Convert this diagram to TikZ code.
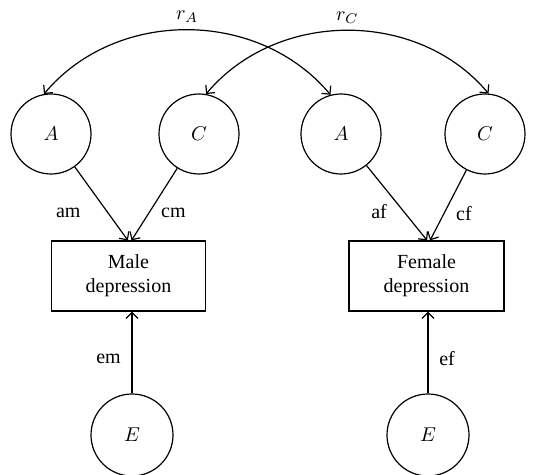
\documentclass[tikz,border=0pt]{standalone}
\usepackage{amsmath,amssymb}
\usepackage{fontspec}
\setmainfont{Liberation Serif}
\usepackage{xcolor}
\usepackage{tikz}
\usetikzlibrary{arrows.meta,positioning,calc}
\tikzset{
  latent/.style={
    circle,draw=black,fill=white,
    line width=.6pt,minimum size=40pt,inner sep=0pt
  },
  residual/.style={
    circle,draw=black,fill=white,
    line width=.6pt,minimum size=41pt,inner sep=0pt
  },
  observed/.style={
    rectangle,draw=black,fill=white,
    line width=.6pt,minimum height=35pt,
    text width=70pt,align=center,font=\normalsize
  },
  path/.style={-{Straight Barb[length=3pt,width=6pt]},draw=black,line width=.6pt},
  covar/.style={{Straight Barb[length=3pt,width=6pt]}-{Straight Barb[length=3pt,width=6pt]},draw=black,line width=.6pt}
}

\begin{document}
\begin{tikzpicture}[x=0.5pt,y=-0.5pt]
\useasboundingbox (0,0) rectangle (536,475);

% latent factors
\node[latent] (Am) at (51,134) {$A$};
\node[latent] (Cm) at (199,134) {$C$};
\node[latent] (Af) at (341,134) {$A$};
\node[latent] (Cf) at (485,134) {$C$};

% observed phenotypes
\node[observed,minimum width=76.5pt] (male) at (128.5,276) {Male\\depression};
\node[observed,minimum width=77.5pt] (female) at (426.5,276) {Female\\depression};

% unique environment
\node[residual] (Em) at (132,435) {$E$};
\node[residual] (Ef) at (428,435) {$E$};

% paths
\draw[path] (Am) -- ([xshift=-0.3pt]male.north) node[pos=0.62,left=10pt] {am};
\draw[path] (Cm) -- ([xshift=1.5pt]male.north) node[pos=0.62,right=2.5pt] {cm};
\draw[path] (Af) -- ([xshift=0.3pt]female.north) node[pos=0.62,left=5pt] {af};
\draw[path] (Cf) -- ([xshift=1.8pt]female.north) node[pos=0.62,right=2.5pt] {cf};
\draw[path] (Em) -- (Em |- male.south) node[pos=0.42,left=2pt] {em};
\draw[path] (Ef) -- (Ef |- female.south) node[pos=0.42,right=2pt] {ef};

% correlations
\draw[covar] (Am.100) to[out=50,in=130] node[pos=0.5,above=0pt] {$r_A$} (Af.105);
\draw[covar] (Cm.80) to[out=50,in=130] node[pos=0.5,above=0pt] {$r_C$} (Cf.85);
\end{tikzpicture}
\end{document}
